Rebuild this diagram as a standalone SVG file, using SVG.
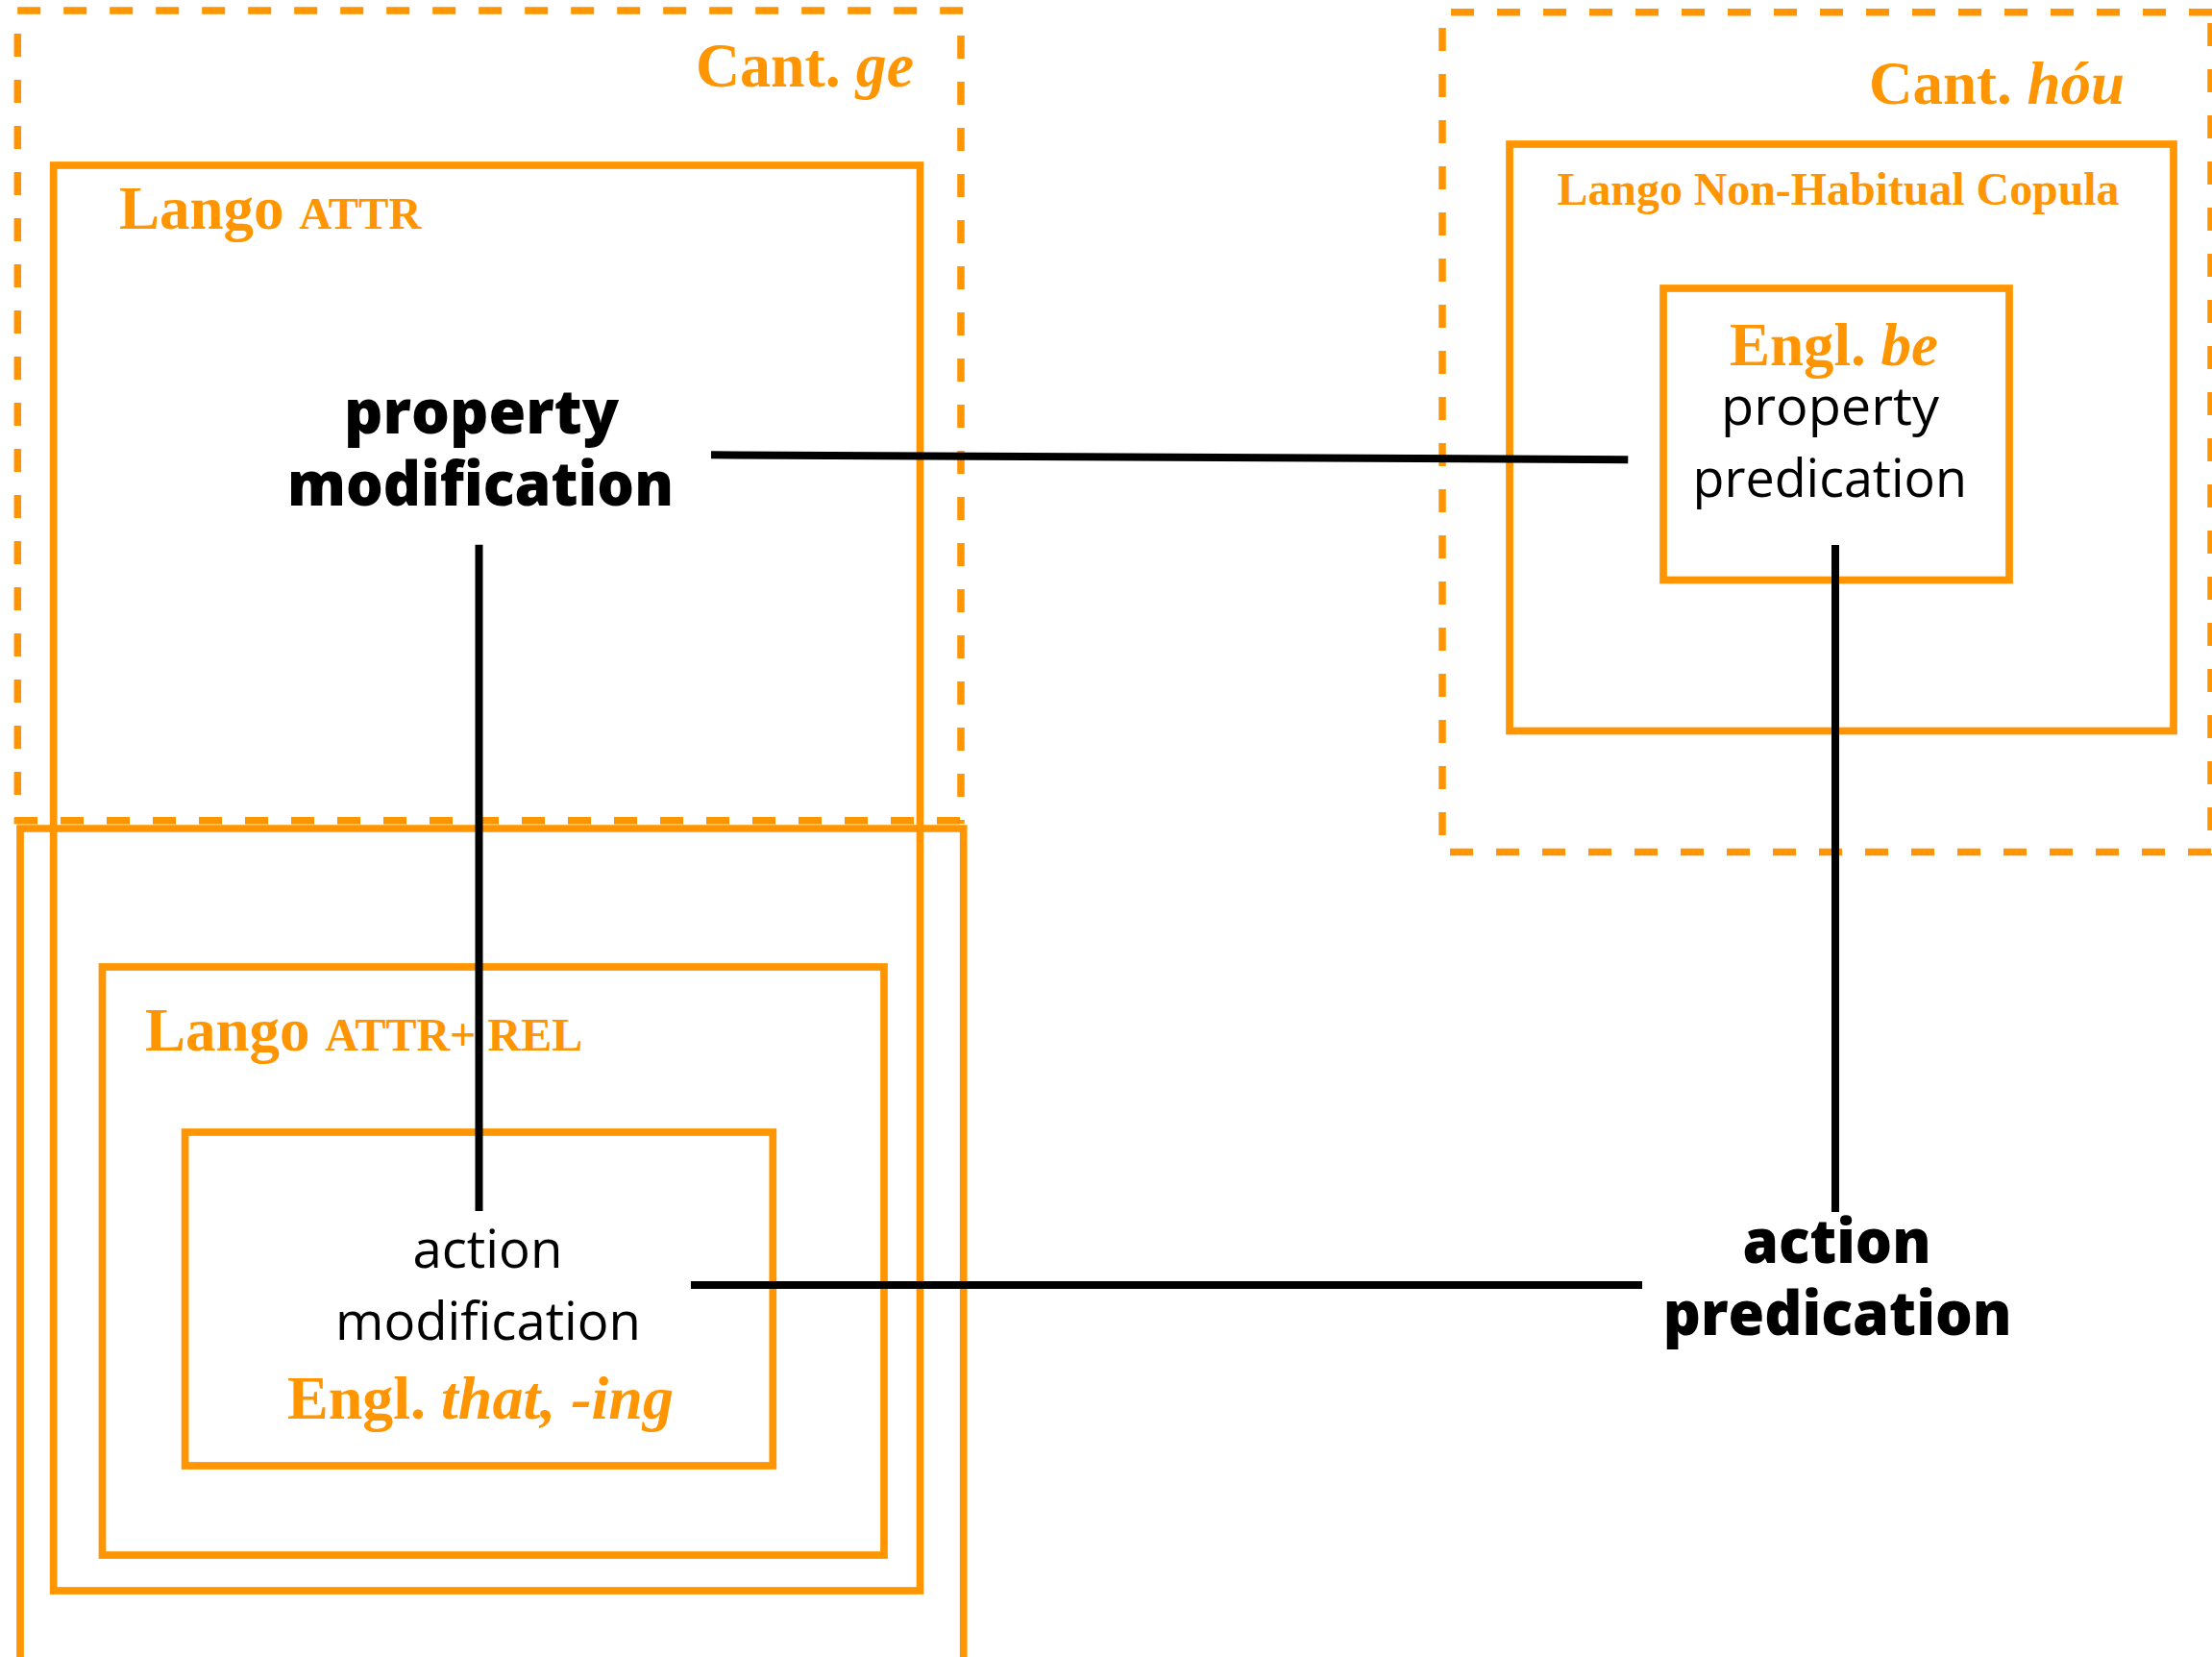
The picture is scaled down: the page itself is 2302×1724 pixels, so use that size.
<svg xmlns="http://www.w3.org/2000/svg" width="2302" height="1724" viewBox="0 0 2302 1724">
  <style>
    .box { fill: none; stroke: #FF9500; stroke-width: 7.7; }
    .dash { fill: none; stroke: #FF9500; stroke-width: 7.5; stroke-dasharray: 24 24; }
    .conn { stroke: #000; stroke-width: 8; fill: none; }
    .lab { font-family: "Liberation Serif", "Times New Roman", serif; font-weight: bold; fill: #FF9500; }
    .it { font-style: italic; }
    .sans { font-family: "Open Sans", "Noto Sans", sans-serif; fill: #000; }
    .reg { font-size: 54px; font-weight: normal; }
    .bold { font-size: 63px; font-weight: 800; }
  </style>
  <rect width="2302" height="1724" fill="#fff"/>

  <!-- Cantonese ge (dashed region) -->
  <g id="cant-ge">
    <line class="dash" x1="18.2" y1="11" x2="1003.7" y2="11"/>
    <line class="dash" x1="18.3" y1="35" x2="18.3" y2="857"/>
    <line class="dash" x1="1000" y1="37" x2="1000" y2="857"/>
    <line class="dash" x1="15" y1="853.7" x2="1003" y2="853.7"/>
    <text class="lab" x="724" y="90" font-size="65" textLength="227" lengthAdjust="spacingAndGlyphs">Cant. <tspan class="it">ge</tspan></text>
  </g>

  <!-- Lower open region -->
  <g id="lower-region">
    <path class="box" d="M21,1740 V862 H1002.7 V1740"/>
  </g>

  <!-- Lango ATTR -->
  <g id="lango-attr">
    <rect class="box" x="55.7" y="172" width="901.8" height="1483"/>
    <text class="lab" x="124" y="238"><tspan font-size="63">Lango </tspan><tspan font-size="47">ATTR</tspan></text>
  </g>

  <!-- Lango ATTR+REL -->
  <g id="lango-attr-rel">
    <rect class="box" x="106.5" y="1006" width="813.5" height="612"/>
    <text class="lab" x="151" y="1093"><tspan font-size="63">Lango </tspan><tspan font-size="48">ATTR+ REL</tspan></text>
  </g>

  <!-- action modification -->
  <g id="action-modification">
    <rect class="box" x="192.6" y="1178" width="611.7" height="347"/>
    <text class="sans reg" x="429.4" y="1319" textLength="156" lengthAdjust="spacingAndGlyphs">action</text>
    <text class="sans reg" x="349" y="1394" textLength="318" lengthAdjust="spacingAndGlyphs">modification</text>
    <text class="lab" x="299" y="1476" font-size="64">Engl. <tspan class="it">that, -ing</tspan></text>
  </g>

  <!-- property modification -->
  <g id="property-modification">
    <text class="sans bold" x="358" y="451" textLength="286" lengthAdjust="spacingAndGlyphs">property</text>
    <text class="sans bold" x="299" y="525.7" textLength="402" lengthAdjust="spacingAndGlyphs">modification</text>
  </g>

  <!-- Cantonese hóu (dashed region) -->
  <g id="cant-hou">
    <line class="dash" x1="1510" y1="12.8" x2="2302" y2="12.8"/>
    <line class="dash" x1="1501" y1="29" x2="1501" y2="890"/>
    <line class="dash" x1="2301" y1="24" x2="2301" y2="890"/>
    <line class="dash" x1="1509" y1="886.4" x2="2302" y2="886.4"/>
    <text class="lab" x="1945" y="108" font-size="64" textLength="266" lengthAdjust="spacingAndGlyphs">Cant. <tspan class="it">hóu</tspan></text>
  </g>

  <!-- Lango Non-Habitual Copula -->
  <g id="lango-copula">
    <rect class="box" x="1571" y="150" width="691" height="610.5"/>
    <text class="lab" x="1620.5" y="213" font-size="48" textLength="585" lengthAdjust="spacingAndGlyphs">Lango Non-Habitual Copula</text>
  </g>

  <!-- property predication -->
  <g id="property-predication">
    <rect class="box" x="1731" y="300" width="360" height="303.5"/>
    <text class="lab" x="1800" y="380" font-size="63">Engl. <tspan class="it">be</tspan></text>
    <text class="sans reg" x="1791" y="442" textLength="227" lengthAdjust="spacingAndGlyphs">property</text>
    <text class="sans reg" x="1761.5" y="517" textLength="285.5" lengthAdjust="spacingAndGlyphs">predication</text>
  </g>

  <!-- action predication -->
  <g id="action-predication">
    <text class="sans bold" x="1813.5" y="1314" textLength="196" lengthAdjust="spacingAndGlyphs">action</text>
    <text class="sans bold" x="1730.7" y="1389" textLength="363" lengthAdjust="spacingAndGlyphs">predication</text>
  </g>

  <!-- Connectors -->
  <g id="connectors">
    <line class="conn" x1="740" y1="473.3" x2="1694.3" y2="478.2"/>
    <line class="conn" x1="498.5" y1="566.7" x2="498.5" y2="1260"/>
    <line class="conn" x1="1910" y1="567" x2="1910" y2="1261"/>
    <line class="conn" x1="719" y1="1337" x2="1709" y2="1337"/>
  </g>
</svg>
